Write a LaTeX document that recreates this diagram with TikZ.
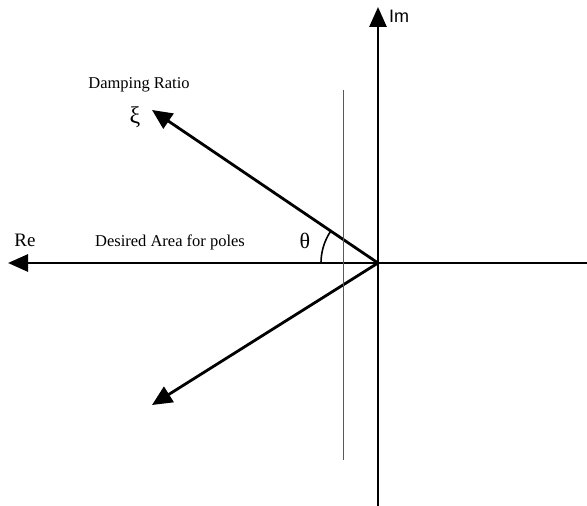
\documentclass[tikz,border=0pt]{standalone}
\usepackage{fontspec}
\setmainfont{Liberation Serif}
\setsansfont{Liberation Sans}
\usepackage{tikz}
\usetikzlibrary{calc,arrows.meta}

\begin{document}
\begin{tikzpicture}[x=1pt, y=1pt,
  every node/.style={inner sep=0pt},
  axis/.style={line width=2.8pt, -{Triangle[length=20pt, width=17pt]}},
  ray/.style={line width=2.8pt, -{Triangle[length=20pt, width=18pt]}}]
\useasboundingbox (0,0) rectangle (587,506);
% axes
\coordinate (origin) at (378,243);
\coordinate (imtip) at (378,499);
\coordinate (imend) at (378,0);
\coordinate (retip) at (8,243);
\coordinate (reend) at (587,243);
\coordinate (xitip) at (152,396);
\coordinate (lowtip) at (152,101);
\coordinate (bndtop) at (343,416);
\coordinate (bndbot) at (343,46);
\draw[axis] (imend) -- (imtip);
\draw[axis] (reend) -- (retip);
\draw[ray] (origin) -- (xitip);
\draw[ray] (origin) -- (lowtip);
\draw[line width=0.9pt, black!65] (bndtop) -- (bndbot);
% angle
\draw[line width=1.6pt] ($(origin)+(-57,0)$) arc[start angle=180, end angle=146, radius=57];
\node[font=\fontsize{19}{21}\selectfont] (re) at (25,266) {Re};
\node[font=\sffamily\fontsize{18}{20}\selectfont, anchor=west] (im) at (389,490) {Im};
\node[font=\fontsize{16.5}{19}\selectfont] (desired) at (170,264) {Desired Area for poles};
\node[font=\fontsize{16.5}{19}\selectfont] (damping) at (139,421) {Damping Ratio};
\node[font=\fontsize{24}{26}\selectfont] (xi) at (135,389) {ξ};
\node[font=\fontsize{22}{24}\selectfont] (theta) at (305,265) {θ};
\end{tikzpicture}
\end{document}
